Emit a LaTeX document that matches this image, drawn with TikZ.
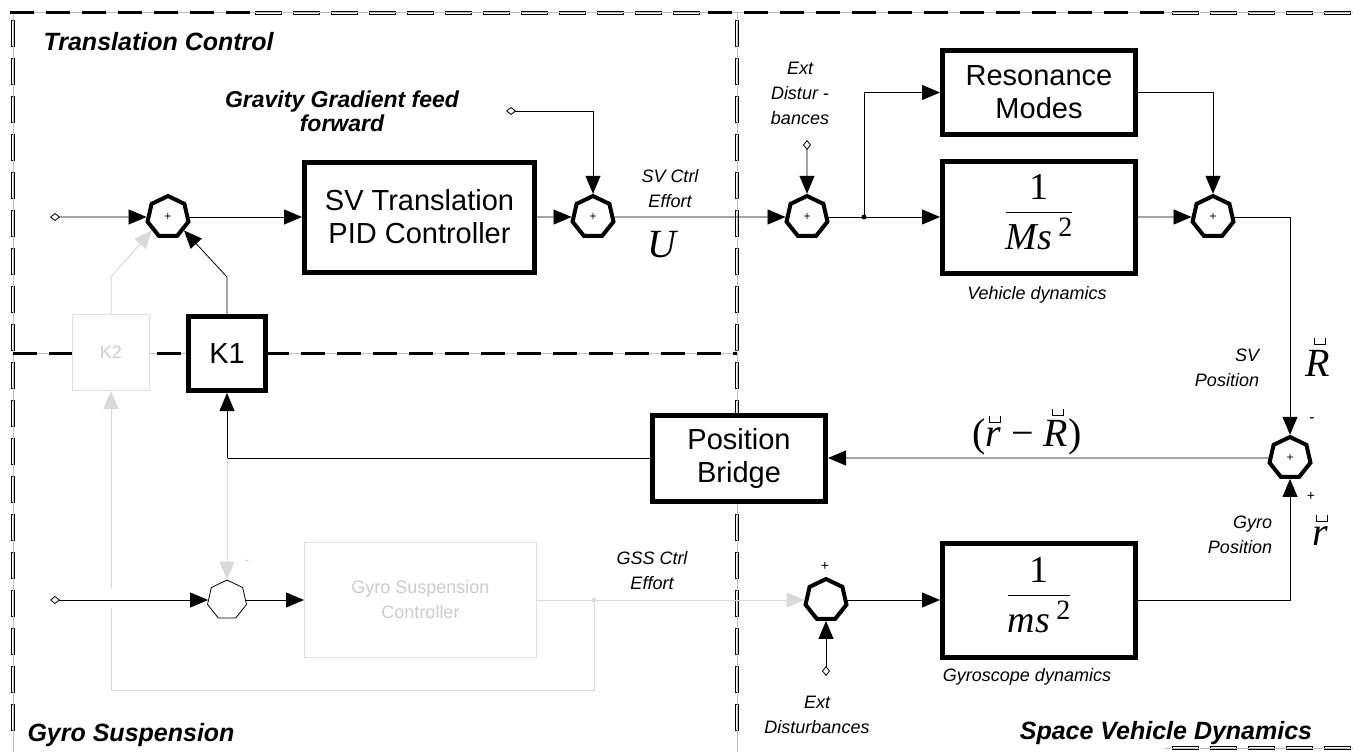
\documentclass[tikz,border=0pt]{standalone}
\usepackage{fontspec}
\setmainfont{Liberation Sans}
\newfontfamily\tms{Liberation Serif}
\usetikzlibrary{arrows.meta, shapes.geometric}

\newcommand\cupmark[1]{\vbox{\offinterlineskip\halign{\hfil##\hfil\cr
  \hbox{\kern3pt\vrule height 7pt width .7pt\vrule height .7pt width 10pt\vrule height 7pt width .7pt}\cr
  \noalign{\kern5pt}#1\cr}}}
\newcommand\blkfrac[2]{{\tms\fontsize{38}{38}\selectfont\setlength\arrayrulewidth{1.2pt}%
  \begin{tabular}{@{}c@{}}#1\\[1pt]\hline\rule{0pt}{36pt}#2\end{tabular}}}

\begin{document}
\begin{tikzpicture}[x=1pt, y=-1pt,
    blk/.style={draw, line width=5pt, fill=white, align=center, inner sep=2pt, font=\fontsize{29}{33}\selectfont},
    gblk/.style={draw=gray!25, line width=1pt, fill=white, text=gray!40, align=center, inner sep=2pt, font=\fontsize{18}{25}\selectfont},
    sumj/.style={regular polygon, regular polygon sides=7, draw, line width=4pt, minimum size=42pt, inner sep=0pt, fill=white, font=\fontsize{12}{12}\selectfont},
    sig/.style={-{Triangle[length=18pt,width=15pt]}, line width=0.8pt},
    src/.style={{Diamond[open,length=10pt,width=8pt]}-{Triangle[length=18pt,width=15pt]}, line width=0.8pt},
    gsig/.style={sig, draw=gray!30, line width=1pt},
    lbl/.style={font=\fontsize{18}{25}\selectfont\itshape, align=center},
    ttl/.style={font=\fontsize{25}{24}\selectfont\bfseries\itshape, align=center},
    big/.style={font=\tms\fontsize{40}{40}\selectfont\itshape},
    bordk/.style={line width=3pt, dash pattern=on 24pt off 12pt},
    bordh/.style={draw=black, line width=0.6pt, fill=white},
    bordg/.style={draw=gray!50, line width=1pt}]
    \useasboundingbox (0,0) rectangle (1353,752);

    \foreach \y in {20,58,...,740} {
        \draw[bordh] (11.5,\y) rectangle (14.5,\y+26);
        \draw[bordh] (735.5,\y) rectangle (738.5,\y+26);
    }
    \foreach \x in {255,293,...,690} \draw[bordh] (\x,11.5) rectangle (\x+26,14.5);
    \foreach \x in {1172,1210,...,1340} {
        \draw[bordh] (\x,11.5) rectangle (\x+26,14.5);
        \draw[bordh] (\x,746.5) rectangle (\x+26,749.5);
    }
    \draw[bordg] (10,13) -- (1353,13);
    \draw[bordg] (13,13) -- (13,752) (737,13) -- (737,752) (1165,748) -- (1353,748);
    \draw[bordg] (13,353) -- (737,353);
    \draw[bordk] (10,13) -- (250,13);
    \draw[bordk] (708,13) -- (1165,13);
    \draw[bordk] (13,353) -- (737,353);

    \node[sumj] (s1) at (168,217) {+};
    \node[sumj] (s2) at (593,217) {+};
    \node[sumj] (s3) at (807,217) {+};
    \node[sumj] (s4) at (1213,217) {+};
    \node[sumj] (s5) at (1290,458) {+};
    \node[sumj, line width=0.8pt, minimum size=40pt] (s6) at (227,600) {};
    \node[sumj] (s7) at (826,600) {};

    \node[blk, minimum width=230pt, minimum height=110pt] (pid) at (419.5,217) {SV Translation\\PID Controller};
    \node[blk, minimum width=193pt, minimum height=84pt] (res) at (1039,92.5) {Resonance\\Modes};
    \node[blk, minimum width=193pt, minimum height=112pt] (vms) at (1039,217) {\blkfrac{1}{\itshape Ms\,\raisebox{13pt}{\upshape\fontsize{28}{28}\selectfont 2}}};
    \node[blk, minimum width=77pt, minimum height=74pt] (k1) at (227,353.5) {K1};
    \node[gblk, minimum width=77pt, minimum height=76pt] (k2) at (111,352.5) {K2};
    \node[blk, minimum width=173pt, minimum height=86pt] (pb) at (739,458) {Position\\Bridge};
    \node[gblk, minimum width=232pt, minimum height=115pt] (gsc) at (420.5,600) {Gyro Suspension\\Controller};
    \node[blk, minimum width=193pt, minimum height=114pt] (gms) at (1039,600) {\blkfrac{1}{\itshape ms\,\raisebox{13pt}{\upshape\fontsize{28}{28}\selectfont 2}}};

    \coordinate (in1) at (50,217);
    \coordinate (gg) at (506,111);
    \coordinate (ed1) at (807,140);
    \coordinate (j1) at (864,217);
    \coordinate (k1up) at (227,277);
    \coordinate (k2up) at (111,277);
    \coordinate (fbc) at (227,458);
    \coordinate (in2) at (50,600);
    \coordinate (j2) at (594,600);
    \coordinate (lp1) at (111,690);
    \coordinate (lp2) at (111,608);
    \coordinate (lp3) at (111,588);
    \coordinate (ed2) at (826,676);

    \draw[src] (in1) -- (s1);
    \draw[sig] (s1) -- (pid);
    \draw[sig] (pid) -- (s2);
    \draw[src] (gg) -| (s2);
    \draw[sig] (s2) -- (s3);
    \draw[src] (ed1) -- (s3);
    \draw[sig] (s3) -- (vms);
    \fill (j1) circle (2.5pt);
    \draw[sig] (j1) |- (res.west);
    \draw[sig] (res.east) -| (s4);
    \draw[sig] (vms) -- (s4);
    \draw[sig] (s4) -| (s5);
    \draw[sig] (s5) -- (pb);
    \draw[sig] (pb.west) -- (fbc) -- (k1.south);
    \draw[sig] (k1.north) -- (k1up) -- (s1.-40);
    \draw[gsig] (k2.north) -- (k2up) -- (s1.220);
    \draw[gsig] (fbc) -- (s6);
    \draw[src] (in2) -- (s6);
    \draw[sig] (s6) -- (gsc);
    \draw[gsig] (gsc) -- (s7);
    \fill[gray!30] (j2) circle (2.5pt);
    \draw[gray!30, line width=1pt] (j2) |- (lp1) -- (lp2);
    \draw[gsig] (lp3) -- (k2);
    \draw[src] (ed2) -- (s7);
    \draw[sig] (s7) -- (gms);
    \draw[sig] (gms) -| (s5);

    \node[ttl, anchor=west] (ttc) at (40,42) {Translation Control};
    \node[ttl, font=\fontsize{23}{24}\selectfont\bfseries\itshape] (tgg) at (342,111) {Gravity Gradient feed\\forward};
    \node[ttl, anchor=west] (tgs) at (24,735) {Gyro Suspension};
    \node[ttl] (tsv) at (1166,733) {Space Vehicle Dynamics};
    \node[lbl] (lsv) at (670,189) {SV Ctrl\\Effort};
    \node[big] (lu) at (662,245) {U};
    \node[lbl] (led1) at (800,93) {Ext\\Distur -\\bances};
    \node[lbl] (lvd) at (1037,295) {Vehicle dynamics};
    \node[lbl, align=right] (lsvp) at (1227,368) {SV\\Position};
    \node[big] (lR) at (1318,357) {\cupmark{R}};
    \node[font=\fontsize{16}{16}\selectfont] (lm) at (1312,420) {-};
    \node[big] (ldiff) at (1027,432) {\upshape(\itshape\cupmark{r} \upshape− \itshape\cupmark{R}\upshape)};
    \node[font=\fontsize{14}{14}\selectfont] (lp) at (1311,496) {+};
    \node[lbl, align=right] (lgp) at (1240,535) {Gyro\\Position};
    \node[big] (lr) at (1320,530) {\cupmark{r}};
    \node[lbl] (lgd) at (1027,677) {Gyroscope dynamics};
    \node[lbl] (led2) at (817,715) {Ext\\Disturbances};
    \node[lbl] (lgss) at (652,571) {GSS Ctrl\\Effort};
    \node[font=\fontsize{14}{14}\selectfont] (lp7) at (825,566) {+};
    \node[font=\fontsize{14}{14}\selectfont, text=gray!40] (lm6) at (247,562) {-};
\end{tikzpicture}
\end{document}
